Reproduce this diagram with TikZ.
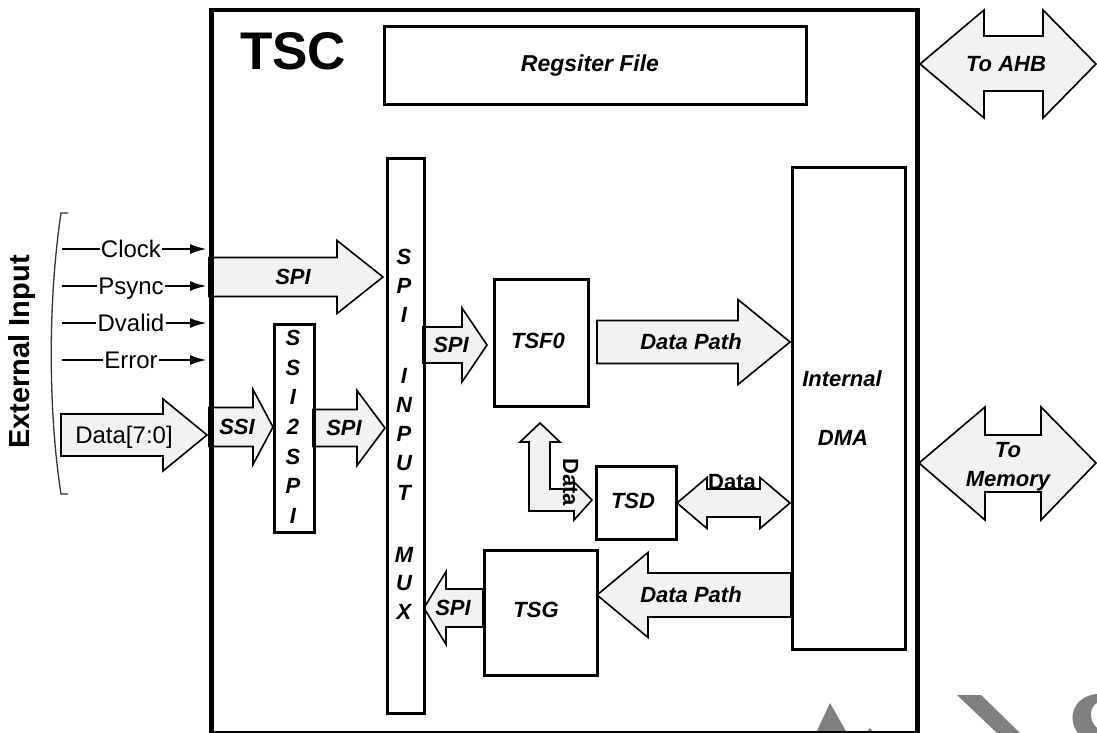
\documentclass[tikz,border=0pt]{standalone}
\usepackage{fontspec}
\setmainfont{Liberation Sans}
\usetikzlibrary{arrows.meta}
\newcommand{\arrR}[6]{\draw[blk] (#1,#3-#4) -- (#2-#6,#3-#4) -- (#2-#6,#3-#5) -- (#2,#3) -- (#2-#6,#3+#5) -- (#2-#6,#3+#4) -- (#1,#3+#4) -- cycle;}
\newcommand{\arrL}[6]{\draw[blk] (#1,#3) -- (#1+#6,#3-#5) -- (#1+#6,#3-#4) -- (#2,#3-#4) -- (#2,#3+#4) -- (#1+#6,#3+#4) -- (#1+#6,#3+#5) -- cycle;}
\newcommand{\arrD}[6]{\draw[blk] (#1,#3) -- (#1+#6,#3-#5) -- (#1+#6,#3-#4) -- (#2-#6,#3-#4) -- (#2-#6,#3-#5) -- (#2,#3) -- (#2-#6,#3+#5) -- (#2-#6,#3+#4) -- (#1+#6,#3+#4) -- (#1+#6,#3+#5) -- cycle;}
\definecolor{wm}{HTML}{808080}
\begin{document}
\begin{tikzpicture}[x=1pt,y=-1pt,
  blk/.style={draw=black, line width=1.6pt, fill=black!5, line join=miter},
  box/.style={draw=black, line width=3pt, inner sep=0pt, anchor=north west},
  lbl/.style={font=\fontsize{22}{26}\selectfont\bfseries\itshape, inner sep=0pt, text height=15.8pt, text depth=0pt},
  blbl/.style={font=\fontsize{22}{26}\selectfont\bfseries, inner sep=0pt, text height=15.8pt, text depth=0pt},
  sig/.style={font=\fontsize{24}{28}\selectfont, inner sep=1pt, text height=17.2pt, text depth=0pt},
  sigline/.style={line width=2.6pt},
  tipA/.style={-{Latex[length=17pt,width=10pt]}}
]
\useasboundingbox (0,0) rectangle (1097,733);

% ---- watermark fragments
\fill[wm] (830,703) -- (847,733) -- (816,733) -- cycle;
\fill[wm] (866,733) -- (870,728) -- (874,733) -- cycle;
\fill[wm] (957,695) -- (981,695) -- (1020,733) -- (997,733) -- cycle;
\fill[wm] (1097,694) .. controls (1074,696) and (1066,718) .. (1078,733) -- (1097,733) -- (1097,728) .. controls (1088,720) and (1090,706) .. (1097,703) -- cycle;

% ---- external input side
\node[font=\fontsize{29}{33}\selectfont\bfseries, rotate=90, inner sep=0pt] (extin) at (22,352) {External Input};
\draw[line width=1.3pt, black!80] (68,213) -- (61,213) .. controls (48,300) and (48,410) .. (61,494) -- (68,494);

\node[sig] (clk) at (131,249) {Clock};
\node[sig] (psy) at (131,286) {Psync};
\node[sig] (dva) at (131,323) {Dvalid};
\node[sig] (err) at (131,360) {Error};
\coordinate (w1) at (207,249);
\coordinate (w2) at (207,286);
\coordinate (w3) at (207,323);
\coordinate (w4) at (207,360);
\coordinate (s1) at (62,249);
\coordinate (s2) at (62,286);
\coordinate (s3) at (62,323);
\coordinate (s4) at (62,360);
\draw[sigline] (s1) -- (clk);
\draw[sigline] (s2) -- (psy);
\draw[sigline] (s3) -- (dva);
\draw[sigline] (s4) -- (err);
\draw[sigline,tipA] (clk) -- (w1);
\draw[sigline,tipA] (psy) -- (w2);
\draw[sigline,tipA] (dva) -- (w3);
\draw[sigline,tipA] (err) -- (w4);

% ---- block arrows
\arrR{61}{207}{435}{21}{36}{44}
\node[sig] (data70) at (124,435) {Data[7:0]};

\arrR{209}{383}{277}{19.5}{36.5}{46}
\node[lbl] (spi1) at (293,277) {SPI};

\arrR{209}{273}{427}{19.5}{37.5}{20}
\node[lbl] (ssil) at (237,427) {SSI};

\arrR{313}{385}{428}{18.5}{37.5}{28}
\node[lbl] (spi2) at (344,428) {SPI};

\arrR{423}{487}{345}{18}{37}{25}
\node[lbl] (spi3) at (451,345) {SPI};

\arrR{597}{790}{342}{21.5}{42.5}{52}
\node[lbl] (dp1) at (691,342) {Data Path};

\arrL{597}{791}{595}{22}{42.5}{51}
\node[lbl] (dp2) at (691,595) {Data Path};

\arrL{424}{483}{608}{19}{36.5}{22}
\node[lbl] (spi4) at (453,608) {SPI};

\arrD{677}{790}{503}{14}{25.5}{30}
\node[blbl] (dtxt) at (732,482) {Data};

% bent two-headed arrow between TSF0 and TSD
\draw[blk] (592,500) -- (574,482) -- (574,489) -- (550,489) -- (550,442) -- (560,442) -- (540,423) -- (520,442) -- (529,442) -- (529,511) -- (574,511) -- (574,520) -- cycle;
\node[blbl, rotate=-90] (dtxt2) at (571,482) {Data};

% external double arrows
\draw[blk] (920,64) -- (984,10) -- (984,36) -- (1043,36) -- (1043,10) -- (1096,64) -- (1043,118) -- (1043,91) -- (984,91) -- (984,118) -- cycle;
\node[lbl] (ahb) at (1006,64) {To AHB};
\draw[blk] (919,463) -- (985,407) -- (985,435) -- (1041,435) -- (1041,407) -- (1096,463) -- (1041,520) -- (1041,492) -- (985,492) -- (985,520) -- cycle;
\node[lbl] (mem1) at (1008,450) {To};
\node[lbl] (mem2) at (1008,479) {Memory};

% ---- boxes
\node[box, line width=4.5pt, minimum width=706pt, minimum height=723pt] (tsc) at (209,8) {};
\node[font=\fontsize{53}{60}\selectfont\bfseries, inner sep=0pt, text height=38pt, text depth=0pt] (tsct) at (293,51) {TSC};

\node[box, minimum width=422pt, minimum height=78pt] (reg) at (383,25) {};
\node[lbl, font=\fontsize{23}{27}\selectfont\bfseries\itshape] (regt) at (590,64) {Regsiter File};

\node[box, minimum width=37pt, minimum height=555pt] (mux) at (386,157) {};
\foreach \L/\yy [count=\k] in {S/257,P/286,I/315,I/376,N/405,P/434,U/463,T/493,M/555,U/583,X/612}
  \node[lbl] (muxl\k) at (404,\yy) {\L};

\node[box, minimum width=40pt, minimum height=208pt] (ssi) at (273,323) {};
\foreach \L/\yy [count=\k] in {S/338,S/368,I/397,2/427,S/457,P/486,I/516}
  \node[lbl] (ssil\k) at (293,\yy) {\L};

\node[box, minimum width=94pt, minimum height=127pt] (tsf) at (493,278) {};
\node[lbl] (tsft) at (538,341) {TSF0};

\node[box, minimum width=80pt, minimum height=73pt] (tsd) at (595,465) {};
\node[lbl] (tsdt) at (633,501) {TSD};

\node[box, minimum width=113pt, minimum height=125pt] (tsg) at (483,549) {};
\node[lbl] (tsgt) at (536,610) {TSG};

\node[box, minimum width=113pt, minimum height=482pt] (dma) at (791,166) {};
\node[lbl] (dmat1) at (842,379) {Internal};
\node[lbl] (dmat2) at (843,438) {DMA};
\end{tikzpicture}
\end{document}
